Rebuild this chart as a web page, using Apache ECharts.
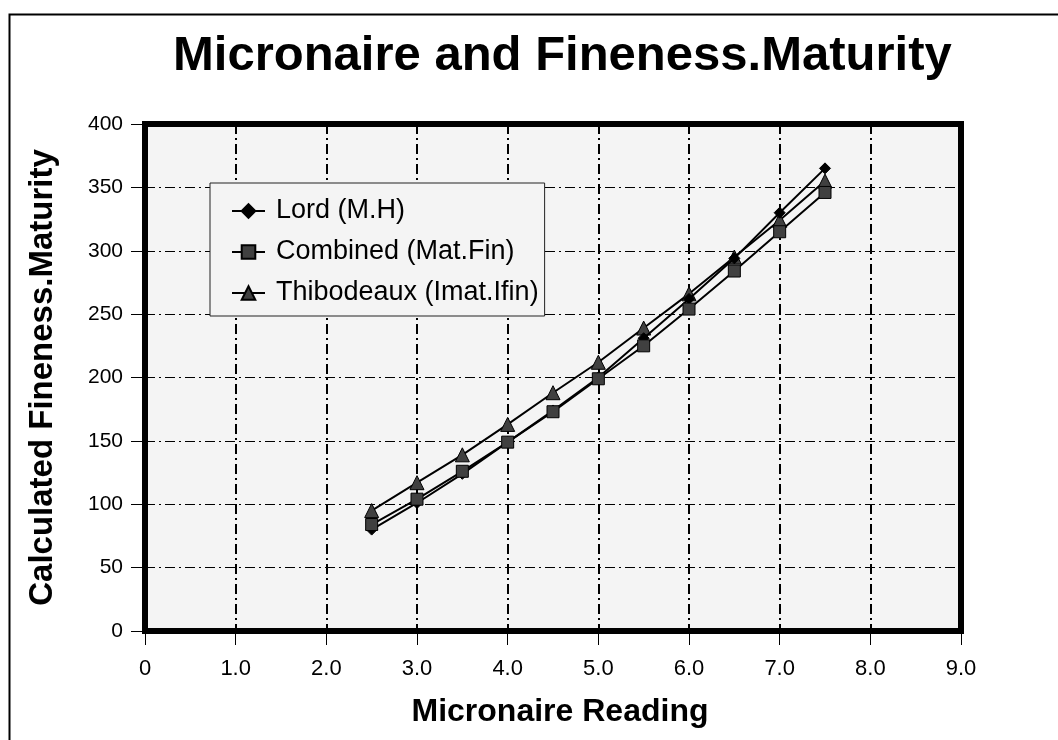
<!DOCTYPE html>
<html>
<head>
<meta charset="utf-8">
<script src="https://cdn.jsdelivr.net/npm/echarts@6/dist/echarts.min.js"></script>
<style>
html,body{margin:0;padding:0;background:#fff;}
#chart{width:1058px;height:740px;}
</style>
</head>
<body>
<div id="chart"></div>
<script>
var micronaire = [2.5, 3.0, 3.5, 4.0, 4.5, 5.0, 5.5, 6.0, 6.5, 7.0, 7.5];
var lordMH = [80, 101, 124, 149, 174, 200, 231, 262, 294, 330, 365];
var combinedMatFin = [84, 104, 126, 149, 173, 199, 225, 254, 284, 315, 346];
var thibodeauxImatIfin = [95, 117, 139, 163, 188, 212, 239, 266, 295, 324, 355];
var seriesNames = ['Lord (M.H)', 'Combined (Mat.Fin)', 'Thibodeaux (Imat.Ifin)'];
var xTickLabels = ['0', '1.0', '2.0', '3.0', '4.0', '5.0', '6.0', '7.0', '8.0', '9.0'];
var yTickLabels = ['0', '50', '100', '150', '200', '250', '300', '350', '400'];

function pairs(xs, ys) { return xs.map(function (x, i) { return [x, ys[i]]; }); }

var FONT = 'Liberation Sans, Arial, sans-serif';
var chart = echarts.init(document.getElementById('chart'));
chart.setOption({
  animation: false,
  backgroundColor: '#ffffff',
  graphic: [{
    type: 'rect', left: 7, top: 12, shape: {x: 0, y: 0, width: 1100, height: 800},
    style: {fill: 'none', stroke: '#000', lineWidth: 2}, z: 100, silent: true
  }],
  title: {
    text: 'Micronaire and Fineness.Maturity',
    left: 168, top: 27,
    textStyle: {fontFamily: FONT, fontSize: 49, fontWeight: 'bold', color: '#000'}
  },
  grid: {
    left: 145, top: 124, right: 97, bottom: 109,
    show: true, backgroundColor: '#f4f4f4', borderColor: '#000', borderWidth: 6, z: 0
  },
  legend: {
    orient: 'vertical', left: 210, top: 183,
    backgroundColor: '#f4f4f4', borderColor: '#222', borderWidth: 1,
    padding: [13, 6, 8, 21],
    itemWidth: 33, itemHeight: 17, itemGap: 11,
    textStyle: {fontFamily: FONT, fontSize: 27, color: '#000', lineHeight: 30, padding: [0, 0, 0, 6]},
    data: seriesNames
  },
  xAxis: {
    type: 'value', min: 0, max: 9, interval: 1,
    name: 'Micronaire Reading', nameLocation: 'middle', nameGap: 65,
    nameTextStyle: {fontFamily: FONT, fontSize: 32, fontWeight: 'bold', color: '#000', padding: [0, 0, 0, 14]},
    axisLine: {show: false},
    axisTick: {show: true, inside: false, length: 14, lineStyle: {color: '#000', width: 1}},
    axisLabel: {fontFamily: FONT, fontSize: 22, color: '#000', margin: 27,
      formatter: function (v) { return xTickLabels[Math.round(v)]; }},
    splitLine: {show: true, lineStyle: {color: '#000', width: 2, type: [10, 4, 2, 4]}}
  },
  yAxis: {
    type: 'value', min: 0, max: 400, interval: 50,
    name: 'Calculated Fineness.Maturity', nameLocation: 'middle', nameGap: 86,
    nameTextStyle: {fontFamily: FONT, fontSize: 33, fontWeight: 'bold', color: '#000'},
    axisLine: {show: false},
    axisTick: {show: true, inside: false, length: 14, lineStyle: {color: '#000', width: 1}},
    axisLabel: {fontFamily: FONT, fontSize: 21, color: '#000', margin: 22,
      formatter: function (v) { return yTickLabels[Math.round(v / 50)]; }},
    splitLine: {show: true, lineStyle: {color: '#000', width: 1, type: [10, 4, 2, 4]}}
  },
  series: [
    {
      name: seriesNames[0], type: 'line', data: pairs(micronaire, lordMH),
      symbol: 'diamond', symbolSize: 11,
      lineStyle: {color: '#000', width: 2},
      itemStyle: {color: '#000', borderColor: '#000', borderWidth: 1}, z: 3
    },
    {
      name: seriesNames[1], type: 'line', data: pairs(micronaire, combinedMatFin),
      symbol: 'rect', symbolSize: 12,
      lineStyle: {color: '#000', width: 2},
      itemStyle: {color: '#404040', borderColor: '#000', borderWidth: 1}, z: 4
    },
    {
      name: seriesNames[2], type: 'line', data: pairs(micronaire, thibodeauxImatIfin),
      symbol: 'triangle', symbolSize: 14,
      lineStyle: {color: '#000', width: 2},
      itemStyle: {color: '#404040', borderColor: '#000', borderWidth: 1}, z: 2
    }
  ]
});
</script>
</body>
</html>
